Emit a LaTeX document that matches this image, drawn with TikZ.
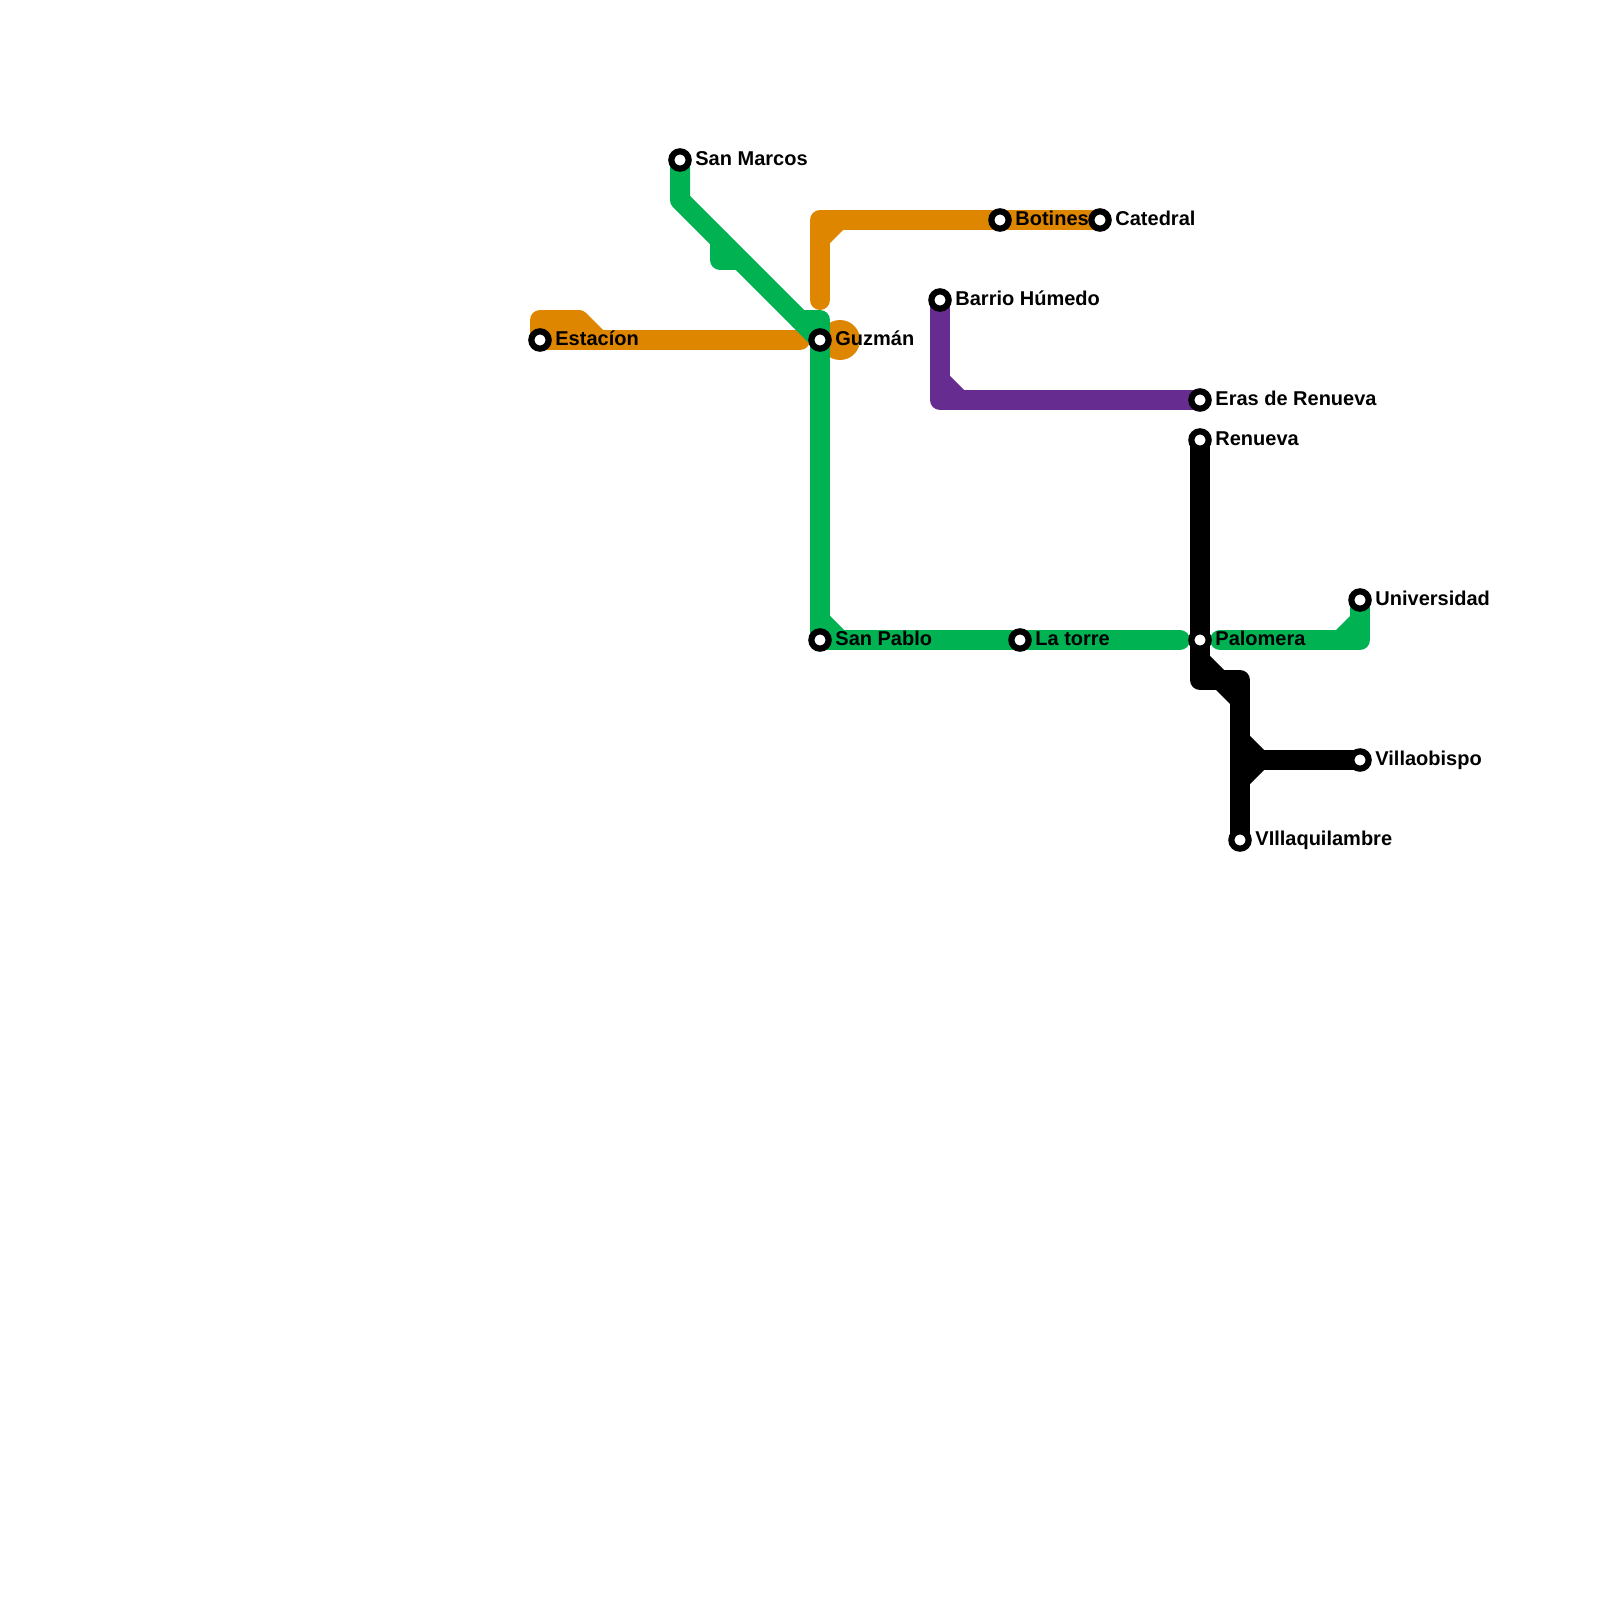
\documentclass[tikz,border=0pt]{standalone}
\usepackage{fontspec}
\setmainfont{Liberation Sans}
\definecolor{lnorange}{HTML}{DF8600}
\definecolor{lngreen}{HTML}{00B251}
\definecolor{lnpurple}{HTML}{662C90}
\pgfdeclarelayer{lines}
\pgfsetlayers{lines,main}
\tikzset{
  metro/.style={line width=10pt,line cap=round,line join=round},
  stn/.style={circle,draw=black,fill=white,line width=3.1pt,minimum size=8.65pt,inner sep=0pt},
  lbl/.style={anchor=base west,inner sep=0pt,font=\fontsize{10pt}{12pt}\selectfont\bfseries,text=black},
}
\begin{document}
\begin{tikzpicture}[x=0.5pt,y=-0.5pt]
\path[use as bounding box] (0,0) rectangle (1600,1600);
% stations
\node[stn] (estacion) at (540,340) {};
\node[stn] (sanmarcos) at (680,160) {};
\node[stn] (guzman) at (820,340) {};
\node[stn] (botines) at (1000,220) {};
\node[stn] (catedral) at (1100,220) {};
\node[stn] (barrio) at (940,300) {};
\node[stn] (eras) at (1200,400) {};
\node[stn] (renueva) at (1200,440) {};
\node[stn] (universidad) at (1360,600) {};
\node[stn] (palomera) at (1200,640) {};
\node[stn] (sanpablo) at (820,640) {};
\node[stn] (latorre) at (1020,640) {};
\node[stn] (villaobispo) at (1360,760) {};
\node[stn] (villaquil) at (1240,840) {};
% free line ends
\coordinate (orangeend) at (820,300);
\coordinate (stubtop) at (720,240);
\coordinate (greenleft) at (1180,640);
\coordinate (greenright) at (1220,640);
% labels
\node[lbl] (l1) at (555,345.5) {Estacíon};
\node[lbl] (l2) at (695,165.5) {San Marcos};
\node[lbl] (l3) at (835,345.5) {Guzmán};
\node[lbl] (l4) at (1015,225.5) {Botines};
\node[lbl] (l5) at (1115,225.5) {Catedral};
\node[lbl] (l6) at (955,305.5) {Barrio Húmedo};
\node[lbl] (l7) at (1215,405.5) {Eras de Renueva};
\node[lbl] (l8) at (1215,445.5) {Renueva};
\node[lbl] (l9) at (1375,605.5) {Universidad};
\node[lbl] (l10) at (1215,645.5) {Palomera};
\node[lbl] (l11) at (835,645.5) {San Pablo};
\node[lbl] (l12) at (1035,645.5) {La torre};
\node[lbl] (l13) at (1375,765.5) {Villaobispo};
\node[lbl] (l14) at (1255,845.5) {VIllaquilambre};
\begin{pgfonlayer}{lines}
% orange
\begin{scope}[metro,draw=lnorange]
\fill[lnorange] (guzman.center) ++(20,0) circle[radius=20];
\draw (estacion.center) -- (540,320) -- (579,320) -- (599,340);
\draw (estacion.center) -- (800,340);
\draw (orangeend) -- (820,220) -- (catedral.center);
\fill[lnorange,line width=0pt] (820,220) -- (843,230) -- (830,243) -- (820,250) -- cycle;
\end{scope}
% purple
\begin{scope}[metro,draw=lnpurple]
\draw (barrio.center) -- (940,400) -- (eras.center);
\fill[lnpurple,line width=0pt] (940,400) -- (950,376) -- (964,390) -- (970,400) -- cycle;
\end{scope}
% green
\begin{scope}[metro,draw=lngreen]
\draw (sanmarcos.center) -- (680,200) -- (guzman.center);
\draw (stubtop) -- (720,260) -- (735,260);
\draw (800,320) -- (820,320) -- (sanpablo.center);
\draw (sanpablo.center) -- (greenleft);
\fill[lngreen,line width=0pt] (820,640) -- (830,616) -- (844,630) -- (850,640) -- cycle;
\draw (greenright) -- (1360,640) -- (universidad.center);
\fill[lngreen,line width=0pt] (1360,640) -- (1336,630) -- (1350,616) -- (1350,640) -- cycle;
\end{scope}
% black
\begin{scope}[metro,draw=black]
\draw (renueva.center) -- (1200,680) -- (1240,680) -- (villaquil.center);
\draw (1240,760) -- (villaobispo.center);
\fill[black,line width=0pt] (1200,680) -- (1210,656) -- (1224,670) -- (1240,680) -- (1230,704) -- (1216,690) -- cycle;
\fill[black,line width=0pt] (1240,760) -- (1250,736) -- (1264,750) -- (1270,760) -- (1264,770) -- (1250,784) -- cycle;
\end{scope}
\end{pgfonlayer}
\end{tikzpicture}
\end{document}
